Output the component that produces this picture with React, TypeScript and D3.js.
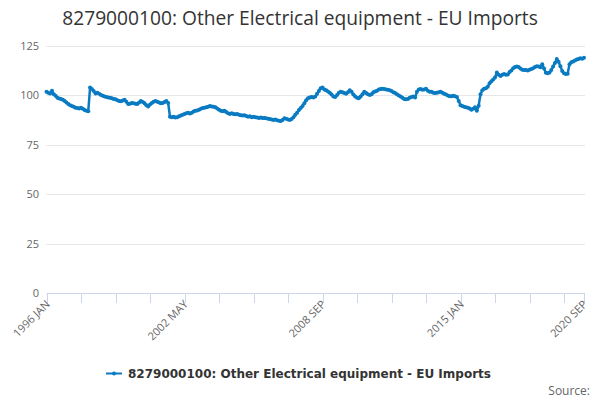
import React, { useEffect, useRef } from 'react';
import * as d3 from 'd3';

const MONTHS = ['JAN', 'FEB', 'MAR', 'APR', 'MAY', 'JUN', 'JUL', 'AUG', 'SEP', 'OCT', 'NOV', 'DEC'];
const FIRST_YEAR = 1996;

// monthly index values, one row per year (1996 .. 2020 SEP)
const values: number[] = [
    101.8, 101.3, 101.0, 102.3, 100.6, 99.8, 98.8, 98.4, 98.2, 97.8, 97.2, 96.4,
    95.6, 95.0, 94.6, 94.2, 93.8, 93.6, 93.4, 93.8, 93.2, 92.6, 92.2, 92.0,
    104.0, 103.2, 102.2, 101.0, 101.4, 100.8, 100.2, 99.8, 99.4, 99.2, 99.0, 98.8,
    98.6, 98.2, 98.0, 97.6, 97.2, 97.0, 97.4, 97.8, 96.8, 95.6, 95.8, 96.2,
    96.0, 95.8, 95.6, 96.4, 97.2, 96.6, 96.0, 95.0, 94.4, 95.4, 96.2, 96.8,
    97.2, 96.8, 96.4, 96.0, 96.2, 96.6, 97.2, 96.2, 89.2, 89.0, 89.2, 88.8,
    89.0, 89.4, 89.8, 90.2, 90.6, 91.0, 91.2, 90.8, 91.2, 91.8, 92.2, 92.4,
    92.8, 93.2, 93.6, 93.8, 94.0, 94.2, 94.6, 94.4, 94.2, 94.0, 93.4, 92.8,
    92.2, 92.0, 92.2, 91.6, 91.0, 90.6, 91.0, 90.6, 90.4, 90.6, 90.2, 90.0,
    89.8, 90.0, 89.6, 89.2, 89.4, 89.0, 89.2, 89.0, 88.8, 88.6, 88.8, 88.6,
    88.6, 88.4, 88.2, 88.0, 87.8, 87.6, 87.8, 87.4, 87.2, 87.0, 87.6, 88.4,
    88.2, 87.8, 87.6, 88.0, 89.0, 90.2, 91.2, 92.6, 93.6, 94.6, 96.0, 97.6,
    98.6, 99.0, 99.2, 99.0, 99.4, 100.8, 102.2, 103.6, 104.0, 103.0, 102.6, 102.0,
    101.4, 100.4, 99.4, 99.2, 100.2, 101.4, 101.8, 101.6, 101.2, 100.8, 101.6, 102.6,
    101.8, 100.4, 99.4, 98.8, 98.6, 99.4, 100.6, 101.8, 101.2, 100.6, 100.2, 100.6,
    101.6, 102.0, 102.4, 103.0, 103.2, 103.4, 103.2, 103.0, 102.8, 102.6, 102.2, 101.6,
    101.2, 100.6, 100.0, 99.4, 98.8, 98.2, 98.0, 98.2, 98.8, 99.2, 99.4, 99.0,
    101.8, 103.0, 103.2, 102.8, 103.0, 103.4, 102.4, 101.8, 101.8, 101.4, 101.2, 101.4,
    101.6, 101.8, 101.4, 100.8, 100.4, 100.0, 99.6, 99.6, 99.8, 99.6, 99.2, 97.2,
    95.0, 94.6, 94.2, 94.0, 93.8, 93.4, 92.8, 93.2, 94.0, 92.2, 94.8, 100.6,
    102.6, 103.4, 103.6, 104.4, 106.2, 107.2, 108.0, 109.0, 111.6, 110.4, 109.8, 110.4,
    110.8, 110.4, 110.6, 111.8, 112.6, 113.8, 114.4, 114.6, 114.4, 113.6, 113.0, 112.8,
    112.8, 112.6, 113.0, 113.4, 113.8, 114.4, 114.8, 114.6, 114.2, 115.8, 113.6, 111.4,
    111.2, 111.6, 112.8, 114.6, 116.4, 118.4, 117.0, 114.8, 112.4, 111.2, 110.8, 111.0,
    115.8, 116.8, 117.2, 117.6, 118.2, 118.4, 118.8, 118.6, 119.0,
];

const categories: string[] = values.map((_v, i) =>
    `${FIRST_YEAR + Math.floor(i / 12)} ${MONTHS[i % 12]}`);

const yTicks = [0, 25, 50, 75, 100, 125];
const seriesName = '8279000100: Other Electrical equipment - EU Imports';
const title = '8279000100: Other Electrical equipment - EU Imports';

const App: React.FC = () => {
    const chartRef = useRef<SVGSVGElement | null>(null);

    useEffect(() => {
        if (!chartRef.current) return;
        const svg = d3.select(chartRef.current);
        svg.selectAll('*').remove();

        const width = 600;
        const height = 400;
        const left = 46.5;
        const right = 584;
        const top = 46;
        const bottom = 293;
        const font = '"Open Sans", "DejaVu Sans", sans-serif';
        const legendFont = '"DejaVu Sans", sans-serif';

        svg.attr('width', width).attr('height', height);

        const x = d3.scaleLinear()
            .domain([0, values.length - 1])
            .range([left, right]);
        const y = d3.scaleLinear()
            .domain([0, 125])
            .range([bottom, top]);

        // title
        svg.append('text')
            .attr('x', width / 2)
            .attr('y', 25)
            .attr('text-anchor', 'middle')
            .style('font-family', font)
            .style('font-size', '19.2px')
            .style('fill', '#333333')
            .text(title);

        // grid
        const grid = svg.append('g');
        grid.selectAll('line')
            .data(yTicks.filter(t => t > 0))
            .enter().append('line')
            .attr('x1', left)
            .attr('x2', right + 1)
            .attr('y1', d => Math.round(y(d)) + 0.5)
            .attr('y2', d => Math.round(y(d)) + 0.5)
            .attr('stroke', '#e6e6e6')
            .attr('stroke-width', 1);

        // y labels
        svg.append('g').selectAll('text')
            .data(yTicks)
            .enter().append('text')
            .attr('x', 39)
            .attr('y', d => y(d) + 4)
            .attr('text-anchor', 'end')
            .style('font-family', font)
            .style('font-size', '11px')
            .style('fill', '#666666')
            .text(d => d);

        // x axis
        const tickIdx = d3.range(0, values.length, 19);
        if (tickIdx[tickIdx.length - 1] !== values.length - 1) tickIdx.push(values.length - 1);
        const labelIdx = [...d3.range(0, values.length - 19, 76), values.length - 1];

        const axis = svg.append('g');
        axis.append('line')
            .attr('x1', left)
            .attr('x2', right + 1)
            .attr('y1', bottom + 0.5)
            .attr('y2', bottom + 0.5)
            .attr('stroke', '#ccd6eb');
        axis.selectAll('line.tick')
            .data(tickIdx)
            .enter().append('line')
            .attr('class', 'tick')
            .attr('x1', d => Math.round(x(d)) + 0.5)
            .attr('x2', d => Math.round(x(d)) + 0.5)
            .attr('y1', bottom)
            .attr('y2', bottom + 10)
            .attr('stroke', '#ccd6eb');
        axis.selectAll('text')
            .data(labelIdx)
            .enter().append('text')
            .attr('transform', d => `translate(${x(d) + 4},${bottom + 12}) rotate(-45)`)
            .attr('text-anchor', 'end')
            .style('font-family', font)
            .style('font-size', '11px')
            .style('fill', '#666666')
            .text(d => categories[d]);

        // series
        const color = '#0a7bc2';
        const line = d3.line<number>()
            .x((_d, i) => x(i))
            .y(d => y(d));
        svg.append('path')
            .datum(values)
            .attr('d', line)
            .attr('fill', 'none')
            .attr('stroke', color)
            .attr('stroke-width', 2.5)
            .attr('stroke-linejoin', 'round');
        svg.append('g').selectAll('circle')
            .data(values)
            .enter().append('circle')
            .attr('cx', (_d, i) => x(i))
            .attr('cy', d => y(d))
            .attr('r', 2)
            .attr('fill', color);

        // legend
        const legend = svg.append('g');
        legend.append('line')
            .attr('x1', 106)
            .attr('x2', 122)
            .attr('y1', 373.5)
            .attr('y2', 373.5)
            .attr('stroke', color)
            .attr('stroke-width', 2);
        legend.append('circle')
            .attr('cx', 114)
            .attr('cy', 373.5)
            .attr('r', 2)
            .attr('fill', color);
        legend.append('text')
            .attr('x', 128)
            .attr('y', 378)
            .style('font-family', legendFont)
            .style('font-size', '12px')
            .style('font-weight', 'bold')
            .style('fill', '#333333')
            .text(seriesName);

        svg.append('text')
            .attr('x', 590)
            .attr('y', 395)
            .attr('text-anchor', 'end')
            .style('font-family', font)
            .style('font-size', '12px')
            .style('fill', '#666666')
            .text('Source:');
    }, []);

    return (
        <div style={{ position: 'absolute', left: 0, top: 0 }}>
            <svg ref={chartRef} style={{ display: 'block' }}></svg>
        </div>
    );
};

export default App;
